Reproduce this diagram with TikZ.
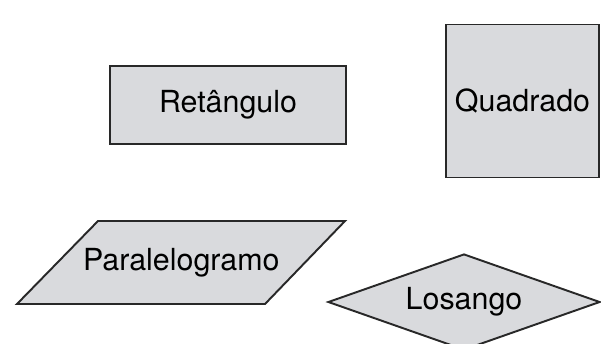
\documentclass[tikz,border=0pt]{standalone}
\usepackage{fontspec}
\setmainfont{TeX Gyre Heros}
\usetikzlibrary{shapes.geometric,positioning}
\definecolor{shapegray}{RGB}{217,218,221}
\definecolor{edgegray}{RGB}{40,40,40}

\begin{document}
\begin{tikzpicture}[every node/.style={font=\fontsize{17.3}{20}\selectfont},
  shapebox/.style={draw=edgegray, fill=shapegray, line width=1.1pt}]
\useasboundingbox (0,0) rectangle (12.02,-6.86);
% Rectangle and square
\node[shapebox, rectangle, minimum width=4.72cm, minimum height=1.56cm] (retangulo) at (4.56,-2.10) {Retângulo};
\node[shapebox, rectangle, minimum size=3.06cm, inner sep=0pt] (quadrado) at (10.45,-2.02) {Quadrado};

% Parallelogram
\draw[shapebox] (1.96,-4.42) -- (6.90,-4.42) -- (5.30,-6.08) -- (0.34,-6.08) -- cycle;
\node (paralelogramo) at (3.625,-5.25) {Paralelogramo};

% Diamond, cut by the lower edge
\node[shapebox, diamond, aspect=2.83, minimum width=5.44cm, minimum height=1.92cm, inner sep=0pt] (losango) at (9.28,-6.04) {Losango};
\end{tikzpicture}
\end{document}
